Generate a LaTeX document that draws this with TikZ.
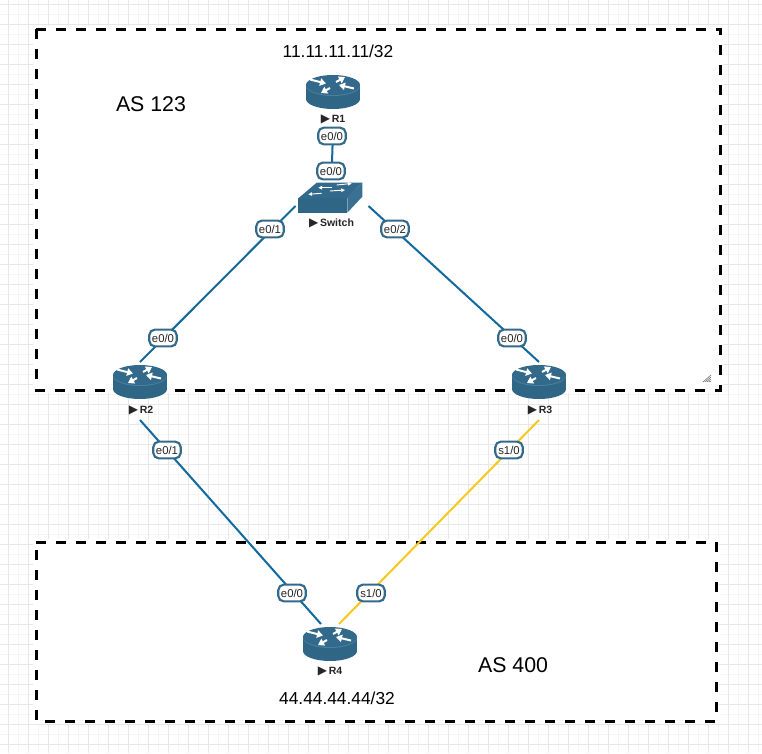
\documentclass[tikz,border=0pt]{standalone}
\usepackage{fontspec}
\setmainfont{Liberation Sans}
\newfontfamily\symfont{DejaVu Sans}
\usetikzlibrary{arrows.meta}
\definecolor{ciscotop}{HTML}{33698B}
\definecolor{ciscoside}{HTML}{2F6686}
\definecolor{ciscorim}{HTML}{4A7F9E}
\definecolor{linkblue}{HTML}{12699E}
\definecolor{linkyellow}{HTML}{F5C91E}
\definecolor{gridmajor}{HTML}{E8E8E8}
\definecolor{gridminor}{HTML}{F5F5F5}
\tikzset{
    routerbox/.style={inner sep=0, outer sep=0, minimum width=40.5pt, minimum height=43.5pt},
    switchbox/.style={inner sep=0, outer sep=0, minimum width=54.75pt, minimum height=32.25pt},
    portlabel/.style={draw=ciscotop, line width=1.6pt, rounded corners=4.2pt, fill=white, inner sep=0,
        minimum width=20.6pt, minimum height=12.6pt, text=black!85, font=\fontsize{8.5pt}{10pt}\selectfont},
    devlabel/.style={text=black!85, inner sep=0, font=\fontsize{7.9pt}{9pt}\selectfont\bfseries},
    astext/.style={inner sep=0, font=\fontsize{16pt}{18pt}\selectfont},
    iptext/.style={inner sep=0, font=\fontsize{13pt}{15pt}\selectfont},
    asbox/.style={draw=black, fill=white, line width=2.25pt, dash pattern=on 7.5pt off 7.5pt},
    link/.style={line width=1.5pt, linkblue},
    seriallink/.style={line width=1.5pt, linkyellow},
    routerarrow/.style={white, line width=1.5pt, -{Triangle[width=5.6pt,length=4.5pt]}},
    switcharrow/.style={white, line width=0.7pt, -{Triangle[width=2.6pt,length=2.8pt]}},
    pics/router/.style={code={
        \fill[ciscoside] (-27,-16) rectangle (27,-2);
        \fill[ciscoside] (0,-2) ellipse [x radius=27, y radius=10];
        \fill[ciscorim] (0,-15) ellipse [x radius=27, y radius=10];
        \fill[ciscotop] (0,-16) ellipse [x radius=27, y radius=10];
        \draw[routerarrow] (-23,-21.5) -- (-7,-17.5);
        \draw[routerarrow] (3,-19) -- (12,-24);
        \draw[routerarrow] (21,-12.5) -- (6,-16);
        \draw[routerarrow] (-3,-13) -- (-12,-8);
    }},
    pics/switchicon/.style={code={
        \fill[ciscoside] (-33.7,13.8) -- (15.3,13.8) -- (15.3,28.2) -- (-33.7,28.2) -- cycle;
        \fill[ciscotop!70!ciscorim] (15.3,13.8) -- (30.3,-1.8) -- (30.3,12.2) -- (15.3,28.2) -- cycle;
        \fill[ciscotop] (-33.7,13.8) -- (-15.3,-1.8) -- (30.3,-1.8) -- (15.3,13.8) -- cycle;
        \draw[switcharrow] (-0.3,3.2) -- (-13.7,3.2);
        \draw[switcharrow] (4.7,0.5) -- (19.7,-1);
        \draw[switcharrow] (-10.3,8.8) -- (-23.7,9.8);
        \draw[switcharrow] (-2,6.5) -- (13,5.5);
    }},
}
\newcommand\marker{{\symfont\fontsize{9pt}{9pt}\selectfont ▶}\,}

\begin{document}
\begin{tikzpicture}[x=0.75pt, y=-0.75pt]
    \useasboundingbox (0,0) rectangle (762,753);
    \fill[white] (0,0) rectangle (762,753);

    % paper grid
    \foreach \gx in {18,38,...,758} {\draw[gridminor, line width=0.75pt] (\gx,0) -- (\gx,753);}
    \foreach \gy in {14,34,...,754} {\draw[gridminor, line width=0.75pt] (0,\gy) -- (762,\gy);}
    \foreach \gx in {8,28,...,748} {\draw[gridmajor, line width=0.75pt] (\gx,0) -- (\gx,753);}
    \foreach \gy in {4,24,...,744} {\draw[gridmajor, line width=0.75pt] (0,\gy) -- (762,\gy);}

    % AS areas
    \draw[white, line width=5pt] (36,29) rectangle (720,390);
    \draw[white, line width=5pt] (36,542) rectangle (716,721);
    \draw[asbox] (36,29) -- (720,29) -- (720,390) -- (36,390) -- cycle;
    \draw[asbox] (36,542) -- (716,542) -- (716,721) -- (36,721) -- cycle;

    % resize handle
    \draw[black!60, line width=0.4pt] (703,382) -- (711,375);
    \draw[black!60, line width=0.4pt] (705,382) -- (711,377);
    \draw[black!60, line width=0.4pt] (707,382) -- (711,379);
    \draw[black!60, line width=0.4pt] (709,382) -- (711,381);

    % devices
    \node[routerbox] (R1) at (333,101){};
    \node[switchbox] (Switch) at (332,184.5){};
    \node[routerbox] (R2) at (140,391){};
    \node[routerbox] (R3) at (539,391){};
    \node[routerbox, minimum width=13.5pt] (R4) at (330,653){};

    % links
    \draw[link] (R1.south) -- (Switch.north);
    \draw[link] (R2.north) -- (Switch.south west);
    \draw[link] (R3.north) -- (Switch.south east);
    \draw[link] (R2.south) -- (R4.north west);
    \draw[seriallink] (R3.south) -- (R4.north east);

    \pic at (R1) {router};
    \pic at (Switch) {switchicon};
    \pic at (R2) {router};
    \pic at (R3) {router};
    \pic at (R4) {router};

    % device names
    \node[devlabel] (labR1) at (333,119){\marker R1};
    \node[devlabel] (labSw) at (331.5,223){\marker Switch};
    \node[devlabel] (labR2) at (141,410){\marker R2};
    \node[devlabel] (labR3) at (540,410){\marker R3};
    \node[devlabel] (labR4) at (330,671){\marker R4};

    % port labels
    \node[portlabel] (portR1) at (332,136){e0/0};
    \node[portlabel] (portSw0) at (331,171){e0/0};
    \node[portlabel] (portSw1) at (270,229){e0/1};
    \node[portlabel] (portSw2) at (395,229){e0/2};
    \node[portlabel] (portR2a) at (163,338){e0/0};
    \node[portlabel] (portR3a) at (512,338){e0/0};
    \node[portlabel] (portR2b) at (167,450){e0/1};
    \node[portlabel] (portR3b) at (509,450){s1/0};
    \node[portlabel] (portR4a) at (292,593){e0/0};
    \node[portlabel] (portR4b) at (371,593){s1/0};

    % area and loopback texts
    \node[astext] (as123) at (151,104){AS 123};
    \node[astext] (as400) at (513,665){AS 400};
    \node[iptext] (ipR1) at (338,51){11.11.11.11/32};
    \node[iptext] (ipR4) at (337,698){44.44.44.44/32};
\end{tikzpicture}
\end{document}
